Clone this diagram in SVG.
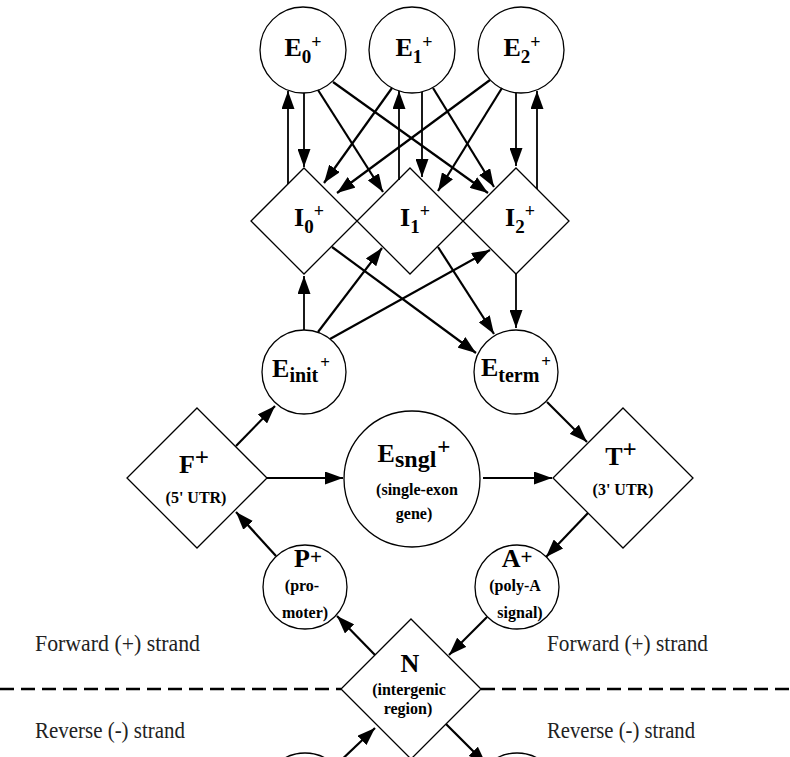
<svg xmlns="http://www.w3.org/2000/svg" width="790" height="757" viewBox="0 0 790 757">
<style>
.node circle, .node polygon { fill:#fff; stroke:#000; stroke-width:1.3; }
.conn line { stroke:#000; stroke-width:2.2; marker-end:url(#ah); }
.conn line.v { stroke-width:1.8; }
.lbl { font-family:"Liberation Serif","Times New Roman",serif; font-weight:bold; font-size:26px; fill:#000; }
.sm { font-family:"Liberation Serif","Times New Roman",serif; font-weight:bold; font-size:16px; fill:#000; }
.strand { font-family:"Liberation Serif","Times New Roman",serif; font-size:23px; fill:#222; }
.dash { stroke:#000; stroke-width:2.6; stroke-dasharray:14 7; }
</style>
<defs>
<marker id="ah" markerUnits="userSpaceOnUse" markerWidth="18" markerHeight="13" refX="18" refY="6.5" orient="auto">
<path d="M0,0 L18,6.5 L0,13 z" fill="#000"/>
</marker>
</defs>
<rect width="790" height="757" fill="#fff"/>

<g id="strand-divider">
<line class="dash" x1="0" y1="689" x2="341" y2="689"/>
<line class="dash" x1="481" y1="689" x2="790" y2="689"/>
<text class="strand" x="35" y="651" textLength="165" lengthAdjust="spacingAndGlyphs">Forward (+) strand</text>
<text class="strand" x="547" y="651" textLength="161" lengthAdjust="spacingAndGlyphs">Forward (+) strand</text>
<text class="strand" x="35" y="738" textLength="150" lengthAdjust="spacingAndGlyphs">Reverse (-) strand</text>
<text class="strand" x="547" y="738" textLength="148" lengthAdjust="spacingAndGlyphs">Reverse (-) strand</text>
</g>

<g id="E0" class="node"><circle cx="303" cy="50" r="43"/>
<text class="lbl" x="303" y="56" text-anchor="middle">E<tspan font-size="19" dy="7">0</tspan><tspan font-size="18" dy="-15">+</tspan></text></g>
<g id="E1" class="node"><circle cx="412" cy="50" r="43"/>
<text class="lbl" x="414" y="56" text-anchor="middle">E<tspan font-size="19" dy="7">1</tspan><tspan font-size="18" dy="-15">+</tspan></text></g>
<g id="E2" class="node"><circle cx="521" cy="50" r="43"/>
<text class="lbl" x="522" y="56" text-anchor="middle">E<tspan font-size="19" dy="7">2</tspan><tspan font-size="18" dy="-15">+</tspan></text></g>

<g id="I0" class="node"><polygon points="304,168 357,221 304,274 251,221"/>
<text class="lbl" x="309" y="226" text-anchor="middle">I<tspan font-size="19" dy="7">0</tspan><tspan font-size="18" dy="-16">+</tspan></text></g>
<g id="I1" class="node"><polygon points="410,168 463,221 410,274 357,221"/>
<text class="lbl" x="415" y="226" text-anchor="middle">I<tspan font-size="19" dy="7">1</tspan><tspan font-size="18" dy="-16">+</tspan></text></g>
<g id="I2" class="node"><polygon points="516,168 569,221 516,274 463,221"/>
<text class="lbl" x="520" y="226" text-anchor="middle">I<tspan font-size="19" dy="7">2</tspan><tspan font-size="18" dy="-16">+</tspan></text></g>

<g id="Einit" class="node"><circle cx="304" cy="372" r="42"/>
<text class="lbl" x="301" y="377" text-anchor="middle" font-size="23">E<tspan font-size="20" dy="5">init</tspan><tspan font-size="17" dx="2" dy="-14">+</tspan></text></g>
<g id="Eterm" class="node"><circle cx="516" cy="372" r="42"/>
<text class="lbl" x="516" y="376" text-anchor="middle" font-size="23">E<tspan font-size="20" dy="6">term</tspan><tspan font-size="17" dx="2" dy="-15">+</tspan></text></g>

<g id="F" class="node"><polygon points="197,408 267,478 197,548 127,478"/>
<text class="lbl" x="194" y="473" text-anchor="middle" font-size="27">F<tspan font-size="25" dy="-7">+</tspan></text>
<text class="sm" x="196" y="503" text-anchor="middle" font-size="17">(5' UTR)</text></g>

<g id="Esngl" class="node"><circle cx="412" cy="479" r="68"/>
<text class="lbl" x="414" y="462" text-anchor="middle" font-size="24">E<tspan font-size="24" dy="5">sngl</tspan><tspan font-size="23" dx="1" dy="-13">+</tspan></text>
<text class="sm" x="417" y="495" text-anchor="middle" font-size="17">(single-exon</text>
<text class="sm" x="414" y="519" text-anchor="middle" font-size="17">gene)</text></g>

<g id="T" class="node"><polygon points="623,408 693,478 623,548 553,478"/>
<text class="lbl" x="621" y="465" text-anchor="middle" font-size="27">T<tspan font-size="25" dy="-7">+</tspan></text>
<text class="sm" x="623" y="495" text-anchor="middle" font-size="17">(3' UTR)</text></g>

<g id="P" class="node"><circle cx="305" cy="587" r="42"/>
<text class="lbl" x="308" y="567" text-anchor="middle" font-size="23">P<tspan font-size="21" dy="-3">+</tspan></text>
<text class="sm" x="302" y="591" text-anchor="middle" font-size="16.5">(pro-</text>
<text class="sm" x="305" y="618" text-anchor="middle" font-size="16.5">moter)</text></g>

<g id="A" class="node"><circle cx="517" cy="587" r="42"/>
<text class="lbl" x="517" y="567" text-anchor="middle" font-size="23">A<tspan font-size="21" dy="-3">+</tspan></text>
<text class="sm" x="515" y="591" text-anchor="middle" font-size="16.5">(poly-A</text>
<text class="sm" x="520" y="618" text-anchor="middle" font-size="16.5">signal)</text></g>

<g id="N" class="node"><polygon points="411,619 481,689 411,759 341,689"/>
<text class="lbl" x="410" y="672" text-anchor="middle" font-size="26">N</text>
<text class="sm" x="409" y="695" text-anchor="middle" font-size="17">(intergenic</text>
<text class="sm" x="408" y="714" text-anchor="middle" font-size="17">region)</text></g>

<g id="Pminus" class="node"><circle cx="305" cy="795" r="42"/></g>
<g id="Aminus" class="node"><circle cx="517" cy="795" r="42"/></g>

<g id="connectors" class="conn">
<line class="v" x1="288" y1="184" x2="288" y2="91"/>
<line class="v" x1="304" y1="93" x2="304" y2="167"/>
<line x1="318" y1="90" x2="383" y2="192"/>
<line x1="333" y1="82" x2="488" y2="193"/>
<line x1="392" y1="88" x2="324" y2="183"/>
<line x1="490" y1="80" x2="337" y2="193"/>
<line class="v" x1="399" y1="180" x2="399" y2="91"/>
<line class="v" x1="422" y1="92" x2="422" y2="177"/>
<line x1="433" y1="88" x2="494" y2="187"/>
<line x1="502" y1="88" x2="438" y2="191"/>
<line class="v" x1="516" y1="93" x2="516" y2="166"/>
<line class="v" x1="537" y1="189" x2="537" y2="91"/>
<line class="v" x1="304" y1="330" x2="304" y2="276"/>
<line x1="318" y1="332" x2="382" y2="248"/>
<line x1="330" y1="339" x2="490" y2="250"/>
<line x1="332" y1="247" x2="476" y2="353"/>
<line x1="438" y1="247" x2="494" y2="334"/>
<line class="v" x1="516" y1="274" x2="516" y2="328"/>
<line x1="236" y1="446" x2="275" y2="406"/>
<line x1="267" y1="478" x2="343" y2="478"/>
<line x1="483" y1="478" x2="552" y2="478"/>
<line x1="547" y1="402" x2="587" y2="442"/>
<line x1="588" y1="513" x2="546" y2="557"/>
<line x1="487" y1="617" x2="449" y2="655"/>
<line x1="375" y1="655" x2="337" y2="616"/>
<line x1="276" y1="556" x2="236" y2="512"/>
<line x1="335" y1="766" x2="375" y2="728"/>
<line x1="446" y1="724" x2="486" y2="764"/>
</g>
</svg>
